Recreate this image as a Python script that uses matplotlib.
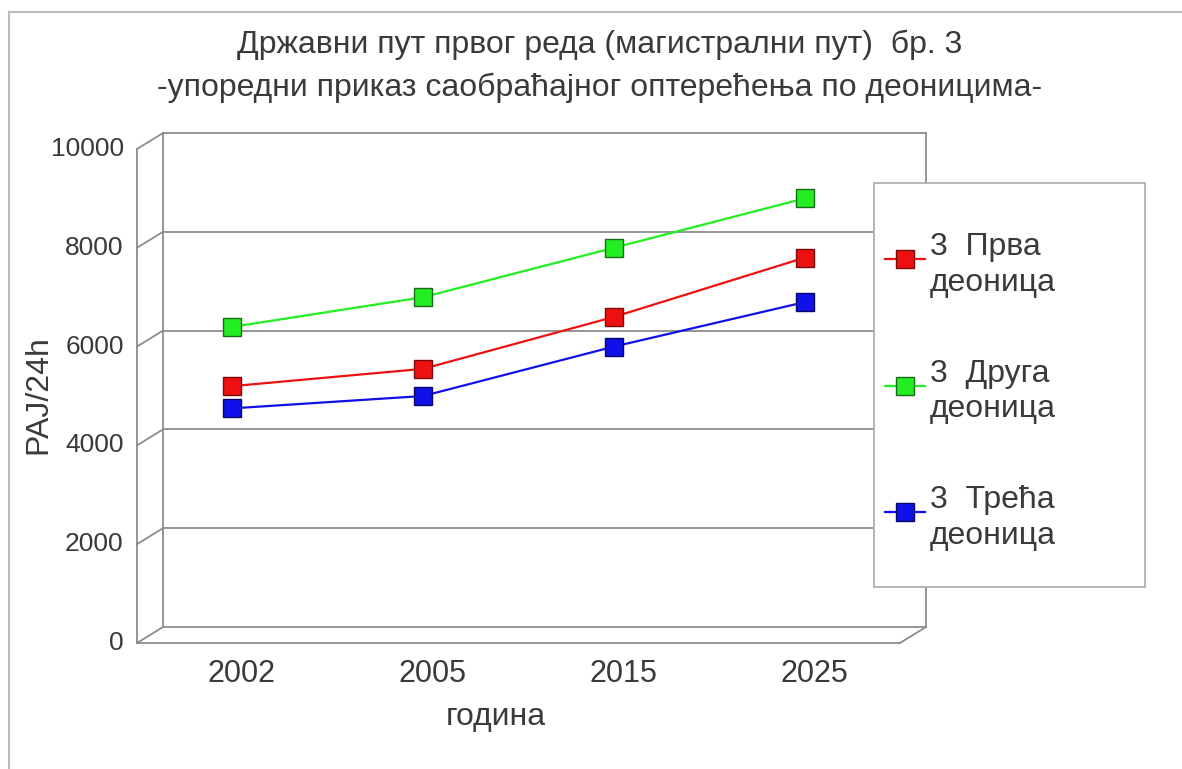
import matplotlib
matplotlib.use("Agg")
import matplotlib.pyplot as plt
from matplotlib.lines import Line2D
from matplotlib.patches import Rectangle

# data
years = ["2002", "2005", "2015", "2025"]
prva = [5200, 5550, 6600, 7800]
druga = [6400, 7000, 8000, 9000]
treca = [4750, 5000, 6000, 6900]
y_ticks = [0, 2000, 4000, 6000, 8000, 10000]

series = [
    ("3  Прва\nдеоница", prva, "#ee1111", "#7a0a0a"),
    ("3  Друга\nдеоница", druga, "#22ee22", "#1a6a1a"),
    ("3  Трећа\nдеоница", treca, "#1010e8", "#06066a"),
]

title1 = "Државни пут првог реда (магистрални пут)  бр. 3"
title2 = "-упоредни приказ саобраћајног оптерећења по деоницима-"

plt.rcParams['font.family'] = ['Liberation Sans', 'DejaVu Sans']
W, H = 1182, 769
txt = "#3a3a3a"
edge = "#8c8c8c"

fig = plt.figure(figsize=(W / 100, H / 100), dpi=100)

# outer frame (top and left only visible)
fig.add_artist(Line2D([9 / W, 1], [1 - 12 / H, 1 - 12 / H], color="#bbbbbb", lw=1.5))
fig.add_artist(Line2D([9 / W, 9 / W], [0, 1 - 12 / H], color="#bbbbbb", lw=1.5))

# front plane of the pseudo 3d box
ax = fig.add_axes([137 / W, 1 - 643 / H, (900 - 137) / W, (643 - 149) / H])
ax.set_xlim(-0.5, 3.5)
ax.set_ylim(0, 10000)
ax.axis("off")

# depth offset in data units (26 px right, 16 px up)
DX = 26 / (900 - 137) * 4
DY = 16 / (643 - 149) * 10000
x0, x1 = -0.5, 3.5
kw = dict(color=edge, lw=1.3, clip_on=False, zorder=1)

# back wall with grid lines
for v in y_ticks:
    ax.plot([x0 + DX, x1 + DX], [v + DY, v + DY], **kw)
ax.plot([x0 + DX, x0 + DX], [DY, 10000 + DY], **kw)
ax.plot([x1 + DX, x1 + DX], [DY, 10000 + DY], **kw)
# front axis lines and depth connectors
ax.plot([x0, x0], [0, 10000], **kw)
ax.plot([x0, x1], [0, 0], **kw)
for v in y_ticks:
    ax.plot([x0, x0 + DX], [v, v + DY], **kw)
    ax.text(x0 - 0.07, v, f"{v}", ha="right", va="center", fontsize=19, color=txt)
ax.plot([x1, x1 + DX], [0, DY], **kw)

xs = range(len(years))
for i, yr in enumerate(years):
    ax.text(i + 0.05, -620, yr, ha="center", va="center", fontsize=22, color=txt)

for label, vals, c, ec in series:
    ax.plot(xs, vals, color=c, lw=1.6, marker="s", markersize=12.5,
            markerfacecolor=c, markeredgecolor=ec, markeredgewidth=1, zorder=5)

ax.text(1.38, -1500, "година", ha="center", va="center", fontsize=23, color=txt)
fig.text(38 / W, 1 - 395 / H, "PAJ/24h", rotation=90, ha="center", va="center",
         fontsize=23, color=txt)

fig.text(600 / W, 1 - 45 / H, title1, ha="center", va="center", fontsize=23,
         color=txt)
fig.text(600 / W, 1 - 88 / H, title2, ha="center", va="center", fontsize=23,
         color=txt)

# legend box drawn by hand
fig.add_artist(Rectangle((874 / W, 1 - 587 / H), (1145 - 874) / W, (587 - 183) / H,
                         facecolor="white", edgecolor="#b0b0b0", lw=1.3, zorder=10))
for k, (label, vals, c, ec) in enumerate(series):
    ym = 259 + k * 126.5
    fig.add_artist(Line2D([885 / W, 905 / W, 925 / W], [1 - ym / H] * 3, color=c,
                          lw=1.6, marker="s", markersize=12.5, markevery=[1],
                          markerfacecolor=c, markeredgecolor=ec, zorder=11))
    fig.text(930 / W, 1 - (ym + 6) / H, label, ha="left", va="center", fontsize=23,
             color=txt, linespacing=1.25, zorder=12)

fig.savefig("out.png", dpi=100)
